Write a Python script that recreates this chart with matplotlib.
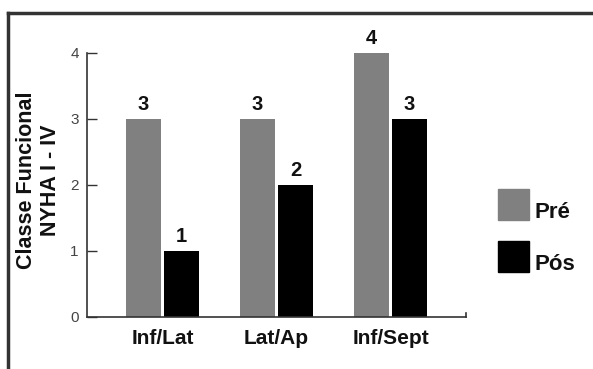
import matplotlib
matplotlib.use("Agg")
import matplotlib.pyplot as plt
import numpy as np
from matplotlib.lines import Line2D
from matplotlib.patches import Rectangle

categories = ["Inf/Lat", "Lat/Ap", "Inf/Sept"]
pre = [3, 3, 4]
pos = [1, 2, 3]
series_names = ["Pré", "Pós"]
yticks = [0, 1, 2, 3, 4]

plt.rcParams['font.family'] = ['Liberation Sans', 'DejaVu Sans']

W, H = 593, 369
fig = plt.figure(figsize=(W / 100, H / 100), dpi=100)

def fx(px):
    return px / W

def fy(py):
    return 1 - py / H

ax = fig.add_axes([fx(87), fy(317), fx(466) - fx(87), fy(53) - fy(317)])

x = np.arange(len(categories))
bw = 0.307
off = 0.1667
b1 = ax.bar(x - off, pre, bw, color="#808080")
b2 = ax.bar(x + off, pos, bw, color="#000000")

for bars, vals in ((b1, pre), (b2, pos)):
    for r, v in zip(bars, vals):
        ax.text(r.get_x() + r.get_width() / 2, v + 0.08, str(v), ha="center",
                va="bottom", fontsize=14.5, fontweight="bold", color="#111111")

ax.set_xlim(-0.662, 2.662)
ax.set_ylim(0, 4)
ax.set_yticks(yticks)
ax.set_xticks(x)
ax.set_xticklabels(categories, fontsize=15, fontweight="bold", color="#111111")
ax.tick_params(axis="x", length=0, pad=9)
ax.tick_params(axis="y", direction="in", length=7, width=1, color="#333333",
               labelsize=11, labelcolor="#444444", pad=6)
for s in ("top", "right"):
    ax.spines[s].set_visible(False)
for s in ("left", "bottom"):
    ax.spines[s].set_color("#333333")
    ax.spines[s].set_linewidth(1.2)
ax.plot([1, 1], [0, 0.015], transform=ax.transAxes, color="#333333", lw=1.2,
        clip_on=False)

fig.text(fx(38.5), fy(180), "Classe Funcional\nNYHA I - IV", rotation=90,
         ha="center", va="center", fontsize=15.5, fontweight="bold",
         color="#111111", linespacing=1.18)

# legend
for i, (name, col) in enumerate(zip(series_names, ["#808080", "#000000"])):
    top = 189 + i * 52
    fig.add_artist(Rectangle((fx(498), fy(top + 31)), fx(529) - fx(498),
                             fy(top) - fy(top + 31), color=col,
                             transform=fig.transFigure))
    fig.text(fx(535), fy(top + 29), name, ha="left", va="baseline",
             fontsize=16, fontweight="bold", color="#111111")

# frame
fig.add_artist(Line2D([fx(8), 1], [fy(13), fy(13)], color="#333333", lw=2.5,
                      transform=fig.transFigure))
fig.add_artist(Line2D([fx(8), fx(8)], [fy(13), 0], color="#333333", lw=2.5,
                      transform=fig.transFigure))

fig.savefig("out.png", dpi=100)
